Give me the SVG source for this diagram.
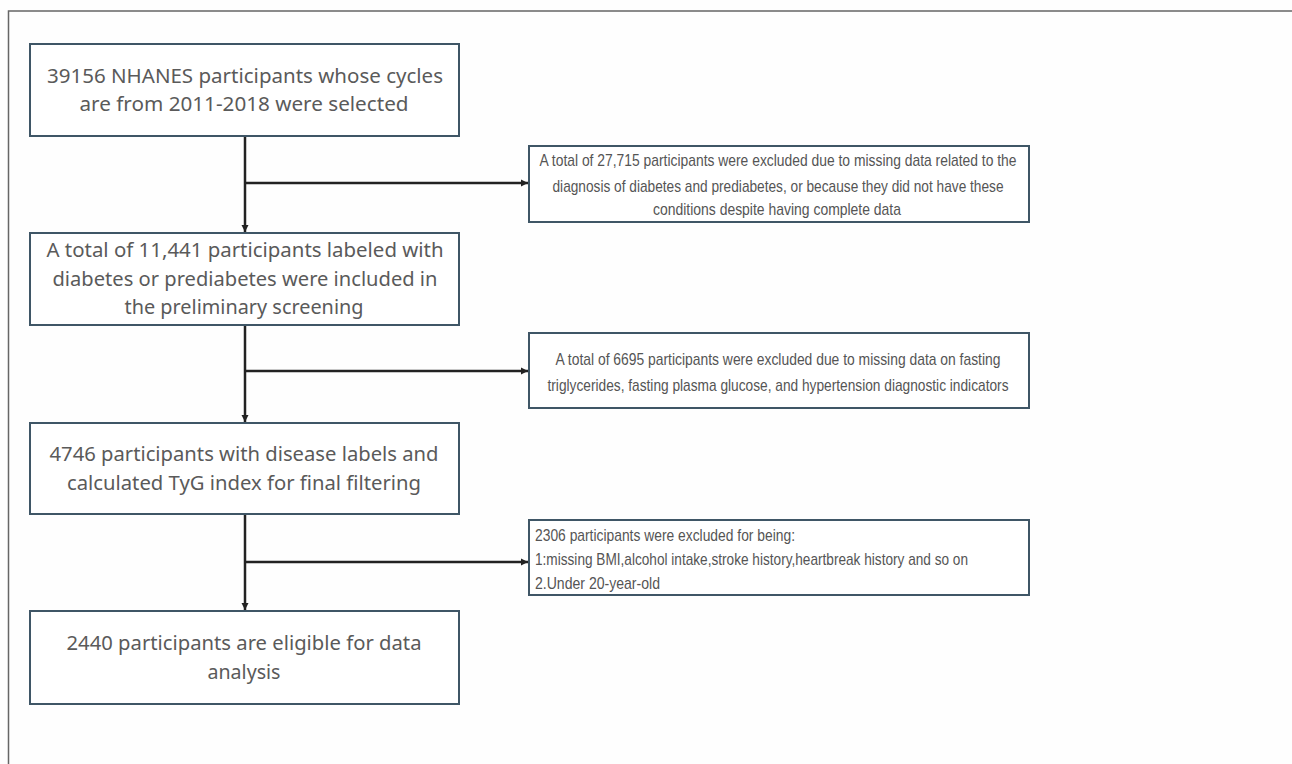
<svg xmlns="http://www.w3.org/2000/svg" width="1292" height="764" viewBox="0 0 1292 764">
<defs>
<style>
.box{fill:#fff;stroke:#3f5666;stroke-width:2}
.lt{font-family:"Noto Sans","Liberation Sans",sans-serif;font-size:20px;fill:#5a5a5a;}
.rt{font-family:"Liberation Sans","Noto Sans",sans-serif;font-size:17px;fill:#555;}
.c{text-anchor:middle}
.ln{stroke:#222;stroke-width:2.5;fill:none}
</style>
<marker id="ah" markerWidth="8" markerHeight="8" refX="7" refY="4" orient="auto" markerUnits="userSpaceOnUse">
<path d="M0,0.5 L7,4 L0,7.5 Z" fill="#222"/>
</marker>
</defs>
<rect width="1292" height="764" fill="#fefefe"/>
<rect x="8.5" y="11" width="1300" height="780" fill="none" stroke="#666" stroke-width="1.5"/>

<g id="connectors">
<line class="ln" x1="245" y1="137" x2="245" y2="232" marker-end="url(#ah)"/>
<line class="ln" x1="245" y1="183" x2="528" y2="183" marker-end="url(#ah)"/>
<line class="ln" x1="245" y1="326" x2="245" y2="422" marker-end="url(#ah)"/>
<line class="ln" x1="245" y1="371" x2="528" y2="371" marker-end="url(#ah)"/>
<line class="ln" x1="245" y1="515" x2="245" y2="610" marker-end="url(#ah)"/>
<line class="ln" x1="245" y1="562" x2="528" y2="562" marker-end="url(#ah)"/>
</g>

<g id="n1">
<rect class="box" x="30" y="44" width="429" height="92"/>
<text class="lt c" x="245" y="83" textLength="396" lengthAdjust="spacingAndGlyphs">39156 NHANES participants whose cycles</text>
<text class="lt c" x="244" y="111" textLength="329" lengthAdjust="spacingAndGlyphs">are from 2011-2018 were selected</text>
</g>

<g id="n2">
<rect class="box" x="30" y="233" width="429" height="92"/>
<text class="lt c" x="245" y="257" textLength="397" lengthAdjust="spacingAndGlyphs">A total of 11,441 participants labeled with</text>
<text class="lt c" x="245" y="286" textLength="385" lengthAdjust="spacingAndGlyphs">diabetes or prediabetes were included in</text>
<text class="lt c" x="244" y="314" textLength="239" lengthAdjust="spacingAndGlyphs">the preliminary screening</text>
</g>

<g id="n3">
<rect class="box" x="30" y="423" width="429" height="91"/>
<text class="lt c" x="244" y="461" textLength="389" lengthAdjust="spacingAndGlyphs">4746 participants with disease labels and</text>
<text class="lt c" x="244" y="490" textLength="354" lengthAdjust="spacingAndGlyphs">calculated TyG index for final filtering</text>
</g>

<g id="n4">
<rect class="box" x="30" y="611" width="429" height="93"/>
<text class="lt c" x="244" y="650" textLength="355" lengthAdjust="spacingAndGlyphs">2440 participants are eligible for data</text>
<text class="lt c" x="244" y="679" textLength="73" lengthAdjust="spacingAndGlyphs">analysis</text>
</g>

<g id="e1">
<rect class="box" x="529" y="146" width="500" height="76"/>
<text class="rt c" x="778" y="166" textLength="477" lengthAdjust="spacingAndGlyphs">A total of 27,715 participants were excluded due to missing data related to the</text>
<text class="rt c" x="778" y="192" textLength="451" lengthAdjust="spacingAndGlyphs">diagnosis of diabetes and prediabetes, or because they did not have these</text>
<text class="rt c" x="777" y="215" textLength="248" lengthAdjust="spacingAndGlyphs">conditions despite having complete data</text>
</g>

<g id="e2">
<rect class="box" x="529" y="333" width="500" height="75"/>
<text class="rt c" x="778" y="365" textLength="445" lengthAdjust="spacingAndGlyphs">A total of 6695 participants were excluded due to missing data on fasting</text>
<text class="rt c" x="778" y="391" textLength="461" lengthAdjust="spacingAndGlyphs">triglycerides, fasting plasma glucose, and hypertension diagnostic indicators</text>
</g>

<g id="e3">
<rect class="box" x="529" y="520" width="500" height="75"/>
<text class="rt" x="535" y="541" textLength="260" lengthAdjust="spacingAndGlyphs">2306 participants were excluded for being:</text>
<text class="rt" x="535" y="565" textLength="433" lengthAdjust="spacingAndGlyphs">1:missing BMI,alcohol intake,stroke history,heartbreak history and so on</text>
<text class="rt" x="535" y="589" textLength="125" lengthAdjust="spacingAndGlyphs">2.Under 20-year-old</text>
</g>
</svg>
